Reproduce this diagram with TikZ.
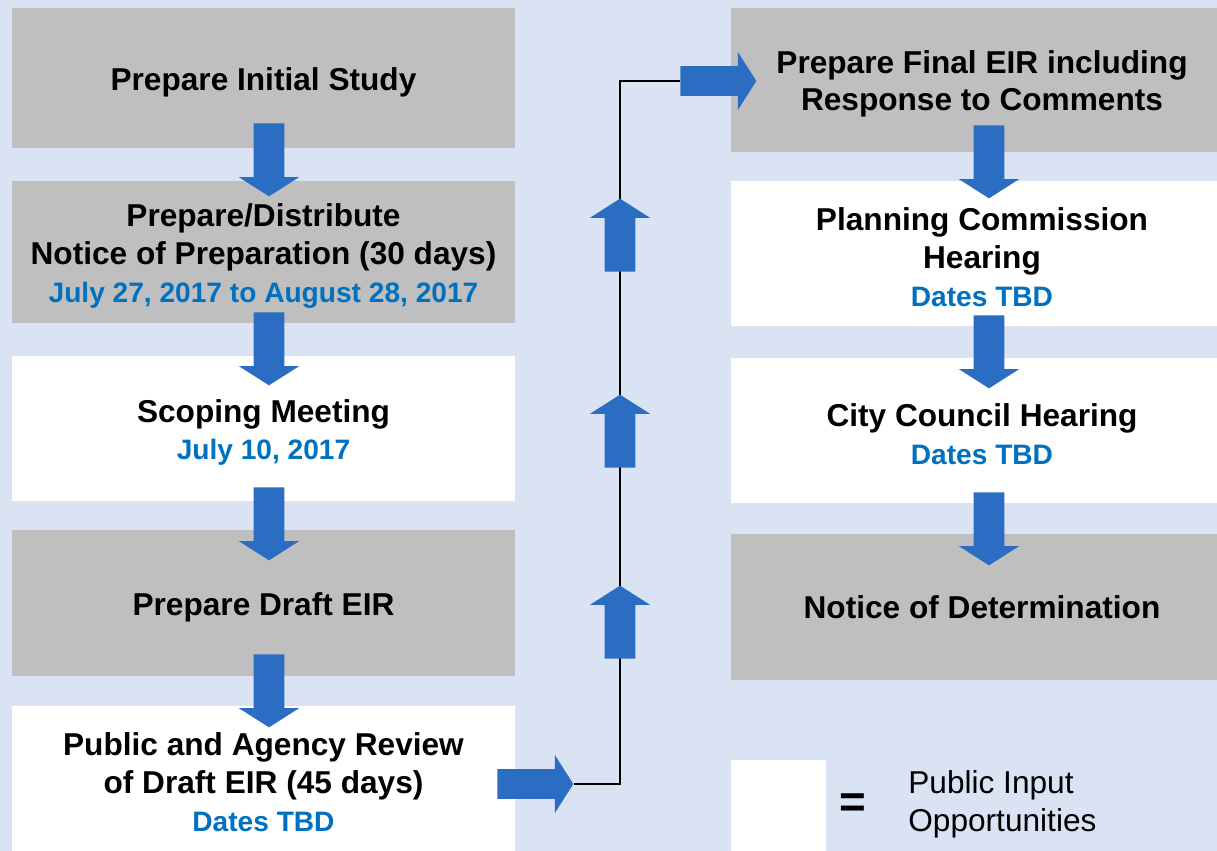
\documentclass[tikz,border=0pt]{standalone}
\usepackage{fontspec}
\setmainfont{Liberation Sans}
\usetikzlibrary{shapes.arrows}

\definecolor{bgblue}{HTML}{DAE3F3}
\definecolor{boxgray}{HTML}{BFBFBF}
\definecolor{arrowblue}{HTML}{2B6DC3}
\definecolor{dateblue}{HTML}{0070C0}
\newcommand{\when}[1]{{\fontsize{16}{21.5}\selectfont\color{dateblue}#1}}
% taller first line, sets the text a little lower in its box
\newcommand{\tall}{\rule{0pt}{17.5pt}}

\begin{document}
\begin{tikzpicture}[x=0.02cm,y=-0.02cm,
  stage/.style={fill=boxgray,minimum width=10.06cm,minimum height=2.9cm,inner sep=0pt,
    align=center,font=\fontsize{18}{21.5}\selectfont\bfseries},
  input/.style={stage,fill=white},
  blk/.style={single arrow,fill=arrowblue,draw=none,anchor=tail,inner xsep=0pt,inner ysep=0.3cm,
    minimum height=1.46cm,single arrow head extend=0.3cm,single arrow tip angle=115},
  dnarrow/.style={blk,rotate=-90},
  uparrow/.style={blk,rotate=90},
  rtarrow/.style={blk,minimum height=1.52cm,inner ysep=0.29cm,single arrow head extend=0.28cm}]
  \useasboundingbox (0,0) rectangle (1217,851);
  \clip (0,0) rectangle (1217,851);
  \fill[bgblue] (0,0) rectangle (1217,851);
  % left column
  \node[stage,minimum height=2.8cm] (prep) at (263.5,78) {\tall Prepare Initial Study};
  \node[stage,minimum height=2.84cm] (nop) at (263.5,252) {\tall Prepare/Distribute\\Notice of Preparation (30 days)\\\when{July 27, 2017 to August 28, 2017}};
  \node[input] (scope) at (263.5,428.5) {\tall Scoping Meeting\\\when{July 10, 2017}};
  \node[stage,minimum height=2.92cm] (draft) at (263.5,603) {\tall Prepare Draft EIR};
  \node[input] (review) at (263.5,778.5) {\tall Public and Agency Review\\of Draft EIR (45 days)\\\when{Dates TBD}};
  % right column
  \node[stage,minimum height=2.88cm] (final) at (982,80) {\tall Prepare Final EIR including\\Response to Comments};
  \node[input] (pc) at (982,253.5) {\tall Planning Commission\\Hearing\\\when{Dates TBD}};
  \node[input] (cc) at (982,430.5) {\tall City Council Hearing\\\when{Dates TBD}};
  \node[stage,minimum height=2.92cm] (nod) at (982,607) {Notice of Determination};
  % legend
  \node[fill=white,minimum width=1.9cm,minimum height=1.82cm,inner sep=0pt] (key) at (778.5,805.5) {};
  \node[font=\fontsize{26}{30}\selectfont\bfseries] (eq) at (853,806) {=};
  \node[anchor=west,align=left,inner sep=0pt,font=\fontsize{18}{21.5}\selectfont] (keytxt) at (908,804) {Public Input\\Opportunities};
  % link between the columns
  \node[rtarrow] (out) at (497,784) {};
  \node[rtarrow] (in) at (680,81) {};
  \coordinate (bendA) at (620,784);
  \coordinate (bendB) at (620,81);
  \draw[line width=1pt] (out.tip) -- (bendA) -- (bendB) -- (in.tail);
  \node[uparrow] (u1) at (620,272) {};
  \node[uparrow] (u2) at (620,468) {};
  \node[uparrow] (u3) at (620,659) {};
  % steps down each column
  \node[dnarrow] (a1) at (269,123) {};
  \node[dnarrow] (a2) at (269,312) {};
  \node[dnarrow] (a3) at (269,487) {};
  \node[dnarrow] (a4) at (269,654) {};
  \node[dnarrow] (b1) at (989,125) {};
  \node[dnarrow] (b2) at (989,315) {};
  \node[dnarrow] (b3) at (989,492) {};
\end{tikzpicture}
\end{document}
